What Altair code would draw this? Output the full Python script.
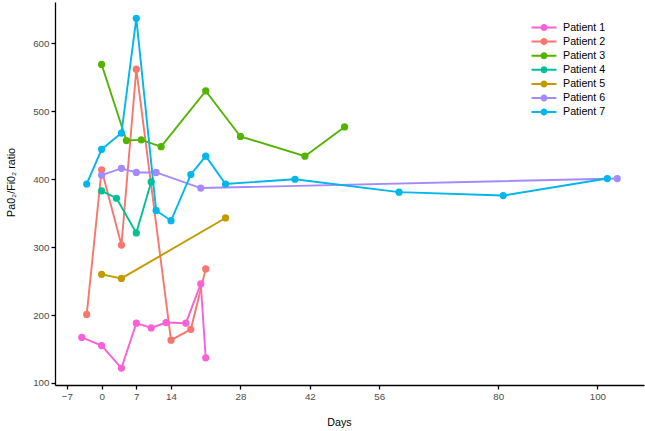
import altair as alt
import pandas as pd

# PaO2/FiO2 ratio over time for each patient
patients = ["Patient 1", "Patient 2", "Patient 3", "Patient 4",
            "Patient 5", "Patient 6", "Patient 7"]
colors = ["#FB61D7", "#F8766D", "#53B400", "#00C094",
          "#C49A00", "#A58AFF", "#00B6EB"]

p1_days = [-4, 0, 4, 7, 10, 13, 17, 20, 21]
p1_ratio = [167, 155, 122, 188, 181, 189, 188, 246, 137]

p2_days = [-3, 0, 4, 7, 14, 18, 21]
p2_ratio = [201, 414, 303, 562, 163, 179, 268]

p3_days = [0, 5, 8, 12, 21, 28, 41, 49]
p3_ratio = [569, 457, 458, 448, 530, 463, 434, 477]

p4_days = [0, 3, 7, 10]
p4_ratio = [383, 372, 321, 396]

p5_days = [0, 4, 25]
p5_ratio = [260, 254, 343]

p6_days = [0, 4, 7, 11, 20, 104]
p6_ratio = [406, 416, 410, 410, 387, 401]

p7_days = [-3, 0, 4, 7, 11, 14, 18, 21, 25, 39, 60, 81, 102]
p7_ratio = [393, 444, 468, 637, 354, 339, 407, 434, 393, 400, 381, 376, 401]

x_ticks = [-7, 0, 7, 14, 28, 42, 56, 80, 100]
y_ticks = [100, 200, 300, 400, 500, 600]

series = [
    (p1_days, p1_ratio), (p2_days, p2_ratio), (p3_days, p3_ratio),
    (p4_days, p4_ratio), (p5_days, p5_ratio), (p6_days, p6_ratio),
    (p7_days, p7_ratio),
]
rows = []
for name, (days, ratio) in zip(patients, series):
    for d, r in zip(days, ratio):
        rows.append({"patient": name, "day": d, "ratio": r})
df = pd.DataFrame(rows)

FONT = "Liberation Sans"

# legend key: a short line with a dot in the middle
key_path = ("M-1.6,-0.13 L1.6,-0.13 L1.6,0.13 L-1.6,0.13 Z "
            "M0.45,0 A0.45,0.45 0 1,1 -0.45,0 A0.45,0.45 0 1,1 0.45,0 Z")

axis_style = dict(
    grid=False,
    domainColor="black", domainWidth=1.3,
    tickColor="black", tickWidth=1.3, tickSize=4,
    labelColor="#4D4D4D", labelFont=FONT, labelFontSize=9.8, labelPadding=2,
    titleColor="black", titleFont=FONT, titleFontSize=10.7,
    titleFontWeight="normal",
)

x_enc = alt.X(
    "day:Q",
    scale=alt.Scale(domain=[-9.4, 109.4], nice=False, zero=False),
    axis=alt.Axis(values=x_ticks, title="Days", titleBaseline="middle",
                  titleX=284, titleY=37, **axis_style),
)
y_enc = alt.Y(
    "ratio:Q",
    scale=alt.Scale(domain=[97, 661], nice=False, zero=False),
    axis=alt.Axis(values=y_ticks, title="Pa0₂/Fi0₂ ratio",
                  titleBaseline="middle", titleX=-44, titleY=180,
                  **axis_style),
)
color_enc = alt.Color(
    "patient:N",
    scale=alt.Scale(domain=patients, range=colors),
    legend=alt.Legend(
        title=None, orient="none", legendX=481, legendY=17.5,
        symbolType=key_path, symbolSize=243, symbolStrokeWidth=0,
        symbolOpacity=1,
        labelFont=FONT, labelFontSize=10.7, labelColor="black",
        labelOffset=11, rowPadding=1.1, padding=0,
    ),
)

base = alt.Chart(df).encode(x=x_enc, y=y_enc, color=color_enc)

lines = base.mark_line(strokeWidth=1.9)
points = base.mark_circle(size=52, opacity=1)

chart = alt.layer(lines, points).properties(
    width=589, height=383,
    autosize="none",
    padding={"left": 55, "top": 2, "right": 1, "bottom": 46},
).configure_view(stroke=None)

chart.save("out.html", embed_options={"renderer": "svg", "actions": False})
